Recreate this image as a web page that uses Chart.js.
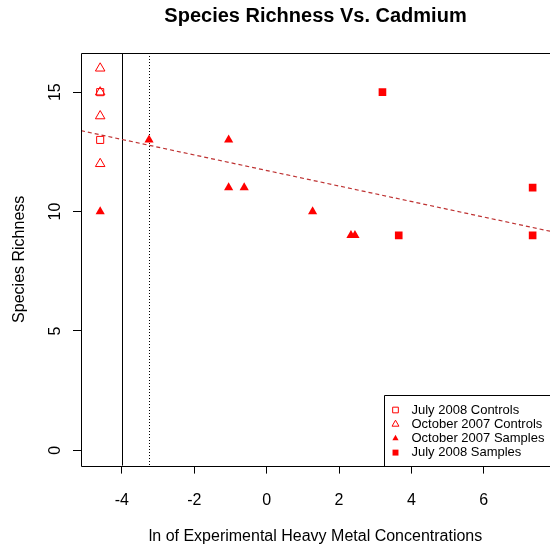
<!DOCTYPE html>
<html>
<head>
<meta charset="utf-8">
<title>Species Richness Vs. Cadmium</title>
<script src="https://cdn.jsdelivr.net/npm/chart.js@4.4.1/dist/chart.umd.min.js"></script>
<style>
    body { margin: 0; background: #fff; }
    canvas { display: block; }
</style>
</head>
<body>
<canvas id="richnessChart" width="550" height="548"></canvas>
<script>
// ln(concentration) vs. number of species, per sampling group
const julyControlsX = [-4.6, -4.6];
const julyControlsY = [15, 13];

const octControlsX = [-4.6, -4.6, -4.6, -4.6];
const octControlsY = [16, 15, 14, 12];

const octSamplesX = [-4.6, -3.25, -1.05, -1.05, -0.62, 1.27, 2.33, 2.44];
const octSamplesY = [10, 13, 13, 11, 11, 10, 9, 9];

const julySamplesX = [3.2, 3.65, 7.35, 7.35];
const julySamplesY = [15, 9, 11, 9];

const seriesNames = ['July 2008 Controls', 'October 2007 Controls', 'October 2007 Samples', 'July 2008 Samples'];

// least squares fit across all points
const fitIntercept = 11.72;
const fitSlope = -0.325;

// reference lines
const solidLineX = -4;
const dottedLineX = -3.25;

const xTicks = [-4, -2, 0, 2, 4, 6];
const yTicks = [0, 5, 10, 15];
const xRange = [-5.13, 7.83];
const yRange = [-0.64, 16.64];

const FONT = '"Liberation Sans", Arial, sans-serif';

function toPoints(xs, ys) {
    return xs.map((x, i) => ({ x: x, y: ys[i] }));
}

const fitLine = xRange.map(x => ({ x: x, y: fitIntercept + fitSlope * x }));

// box, reference lines, rotated y labels and the legend
const extras = {
    id: 'extras',
    beforeDatasetsDraw(chart) {
        const { ctx, chartArea, scales } = chart;
        ctx.save();
        ctx.strokeStyle = '#000';
        ctx.lineWidth = 1;

        const xs = Math.round(scales.x.getPixelForValue(solidLineX)) + 0.5;
        ctx.beginPath();
        ctx.moveTo(xs, chartArea.top);
        ctx.lineTo(xs, chartArea.bottom);
        ctx.stroke();

        const xd = Math.round(scales.x.getPixelForValue(dottedLineX)) + 0.5;
        ctx.setLineDash([1, 2]);
        ctx.beginPath();
        ctx.moveTo(xd, chartArea.top);
        ctx.lineTo(xd, chartArea.bottom);
        ctx.stroke();
        ctx.restore();
    },
    afterDraw(chart) {
        const { ctx, chartArea, scales } = chart;
        const left = Math.round(chartArea.left) + 0.5;
        const top = Math.round(chartArea.top) + 0.5;
        const bottom = Math.round(chartArea.bottom) + 0.5;
        const right = chartArea.right + 2;

        ctx.save();
        ctx.strokeStyle = '#000';
        ctx.lineWidth = 1;
        ctx.beginPath();
        ctx.moveTo(right, top);
        ctx.lineTo(left, top);
        ctx.lineTo(left, bottom);
        ctx.lineTo(right, bottom);
        ctx.stroke();

        // y tick labels read bottom to top
        ctx.fillStyle = '#000';
        ctx.font = '16px ' + FONT;
        ctx.textAlign = 'center';
        ctx.textBaseline = 'alphabetic';
        for (const v of yTicks) {
            const y = scales.y.getPixelForValue(v);
            ctx.save();
            ctx.translate(left - 21.5, y);
            ctx.rotate(-Math.PI / 2);
            ctx.fillText(String(v), 0, 0);
            ctx.restore();
        }

        // legend in the bottom right corner
        const boxLeft = Math.round(chartArea.right - 166) + 0.5;
        const boxTop = Math.round(chartArea.bottom - 71) + 0.5;
        ctx.beginPath();
        ctx.moveTo(right, boxTop);
        ctx.lineTo(boxLeft, boxTop);
        ctx.lineTo(boxLeft, bottom);
        ctx.stroke();

        ctx.font = '13px ' + FONT;
        ctx.textAlign = 'left';
        ctx.textBaseline = 'middle';
        chart.data.datasets.slice(0, seriesNames.length).forEach((ds, i) => {
            const y = boxTop + 14.5 + i * 14.2;
            ctx.save();
            ctx.fillStyle = ds.backgroundColor;
            ctx.strokeStyle = ds.borderColor;
            Chart.helpers.drawPoint(ctx, {
                pointStyle: ds.pointStyle,
                radius: ds.legendRadius,
                rotation: 0,
                borderWidth: ds.borderWidth
            }, boxLeft + 11, y);
            ctx.restore();
            ctx.fillStyle = '#000';
            ctx.fillText(ds.label, boxLeft + 27, y);
        });
        ctx.restore();
    }
};

const ctx = document.getElementById('richnessChart').getContext('2d');
new Chart(ctx, {
    type: 'scatter',
    data: {
        datasets: [
            {
                label: seriesNames[0],
                data: toPoints(julyControlsX, julyControlsY),
                pointStyle: 'rect',
                pointRadius: 5,
                legendRadius: 4,
                borderWidth: 1,
                borderColor: 'red',
                backgroundColor: 'rgba(0,0,0,0)'
            },
            {
                label: seriesNames[1],
                data: toPoints(octControlsX, octControlsY),
                pointStyle: 'triangle',
                pointRadius: 5.5,
                legendRadius: 4,
                borderWidth: 1,
                borderColor: 'red',
                backgroundColor: 'rgba(0,0,0,0)'
            },
            {
                label: seriesNames[2],
                data: toPoints(octSamplesX, octSamplesY),
                pointStyle: 'triangle',
                pointRadius: 5.3,
                legendRadius: 3.6,
                borderWidth: 0,
                borderColor: 'red',
                backgroundColor: 'red'
            },
            {
                label: seriesNames[3],
                data: toPoints(julySamplesX, julySamplesY),
                pointStyle: 'rect',
                pointRadius: 5.4,
                legendRadius: 4.2,
                borderWidth: 0,
                borderColor: 'red',
                backgroundColor: 'red'
            },
            {
                type: 'line',
                label: 'fit',
                data: fitLine,
                borderColor: 'rgb(190, 50, 50)',
                borderWidth: 1.2,
                borderDash: [4, 3],
                pointRadius: 0,
                fill: false
            }
        ]
    },
    options: {
        responsive: false,
        animation: false,
        layout: { padding: 0, autoPadding: false },
        plugins: {
            legend: { display: false },
            tooltip: { enabled: false },
            title: {
                display: true,
                text: 'Species Richness Vs. Cadmium',
                fullSize: false,
                color: '#000',
                font: { family: FONT, size: 20, weight: 'bold' },
                padding: { top: 4, bottom: 25 }
            }
        },
        scales: {
            x: {
                type: 'linear',
                min: xRange[0],
                max: xRange[1],
                afterBuildTicks: (scale) => { scale.ticks = xTicks.map(v => ({ value: v })); },
                afterFit: (scale) => {
                    scale.height = 82.4;
                    scale.paddingLeft = 0;
                    scale.paddingRight = 0;
                },
                border: { display: false },
                grid: { drawOnChartArea: false, drawTicks: true, tickLength: 8, color: '#000' },
                ticks: {
                    color: '#000',
                    padding: 17,
                    maxRotation: 0,
                    font: { family: FONT, size: 16 }
                },
                title: {
                    display: true,
                    text: 'ln of Experimental Heavy Metal Concentrations',
                    color: '#000',
                    font: { family: FONT, size: 16 },
                    padding: { top: 0, bottom: 2 }
                }
            },
            y: {
                type: 'linear',
                min: yRange[0],
                max: yRange[1],
                afterBuildTicks: (scale) => { scale.ticks = yTicks.map(v => ({ value: v })); },
                afterFit: (scale) => {
                    scale.width = 81;
                    scale.paddingTop = 0;
                    scale.paddingBottom = 0;
                },
                border: { display: false },
                grid: { drawOnChartArea: false, drawTicks: true, tickLength: 8, color: '#000' },
                ticks: { display: false },
                title: {
                    display: true,
                    text: 'Species Richness',
                    color: '#000',
                    font: { family: FONT, size: 16 },
                    padding: { top: 10, bottom: 0 }
                }
            }
        }
    },
    plugins: [extras]
});
</script>
</body>
</html>
